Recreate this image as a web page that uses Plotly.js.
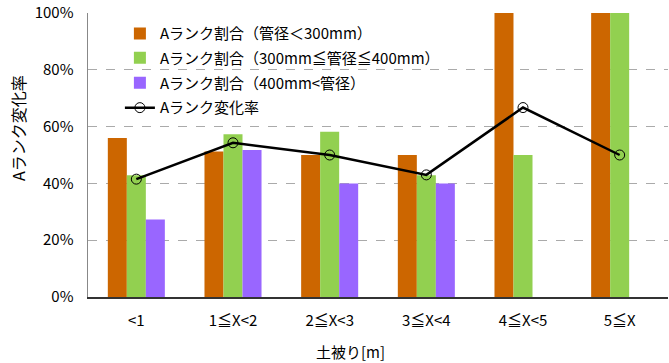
<!DOCTYPE html>
<html><head><meta charset="utf-8">
<script src="https://cdn.plot.ly/plotly-3.0.1.min.js"></script>
<style>html,body{margin:0;padding:0;background:#fff}#c{width:669px;height:363px}</style>
</head><body><div id="c"></div>
<script>
const categories = ["<1", "1≦X<2", "2≦X<3", "3≦X<4", "4≦X<5", "5≦X"];
const seriesNames = ["Aランク割合（管径＜300mm）", "Aランク割合（300mm≦管径≦400mm）", "Aランク割合（400mm<管径）", "Aランク変化率"];
const small = [0.56, 0.512, 0.50, 0.50, 1.00, 1.00];
const mid = [0.4286, 0.573, 0.582, 0.4286, 0.50, 1.00];
const large = [0.2727, 0.518, 0.40, 0.40, null, null];
const changeRate = [0.415, 0.543, 0.50, 0.43, 0.667, 0.50];
const yTicks = [0, 0.2, 0.4, 0.6, 0.8, 1.0];
const yTickText = ["0%", "20%", "40%", "60%", "80%", "100%"];
const xTitle = "土被り[m]";
const yTitle = "Aランク変化率";

const F = '"Noto Sans CJK JP", "DejaVu Sans", sans-serif';
const traces = [
  {type:'bar', x:categories, y:small, name:seriesNames[0], marker:{color:'#CC6600'}, legend:'legend'},
  {type:'bar', x:categories, y:mid, name:seriesNames[1], marker:{color:'#92D050'}, legend:'legend2'},
  {type:'bar', x:categories, y:large, name:seriesNames[2], marker:{color:'#9966FF'}, legend:'legend3'},
  {type:'scatter', mode:'lines+markers', x:categories, y:changeRate, name:seriesNames[3], legend:'legend4',
   line:{color:'#000', width:2.5}, marker:{symbol:'circle-open', size:10, color:'#000', line:{width:1}}}
];
function leg(y){
  return {x:0.055, y:y, xanchor:'left', yanchor:'top', bgcolor:'rgba(255,255,255,0)',
    font:{family:F, size:15, color:'#000'}};
}
const layout = {
  width:669, height:363,
  margin:{l:88, r:1, t:13, b:66},
  paper_bgcolor:'#fff', plot_bgcolor:'#fff',
  font:{family:F, size:14, color:'#000'},
  barmode:'group', bargap:0.41, bargroupgap:0,
  showlegend:true,
  legend:leg(0.985), legend2:leg(0.900), legend3:leg(0.812), legend4:leg(0.724),
  xaxis:{showline:true, linecolor:'#333', linewidth:1.5, ticks:'', tickfont:{size:15},
    ticklabelstandoff:9, automargin:false},
  yaxis:{range:[0,1], tickvals:yTicks, ticktext:yTickText, showline:true, linecolor:'#888', linewidth:1.5,
    showgrid:true, gridcolor:'#aaa', griddash:'dash', gridwidth:1, zeroline:false, ticks:'',
    tickfont:{size:15}, ticklabelstandoff:10, automargin:false},
  annotations:[
    {text:xTitle, xref:'paper', yref:'paper', x:(350-88)/580, y:(297-351)/284, xanchor:'center', yanchor:'middle',
     showarrow:false, font:{family:F, size:15, color:'#000'}},
    {text:yTitle, xref:'paper', yref:'paper', x:(18-88)/580, y:(297-128)/284, xanchor:'center', yanchor:'middle',
     textangle:-90, showarrow:false, font:{family:F, size:16, color:'#000'}}
  ]
};
Plotly.newPlot('c', traces, layout, {staticPlot:true, displayModeBar:false});
</script></body></html>
